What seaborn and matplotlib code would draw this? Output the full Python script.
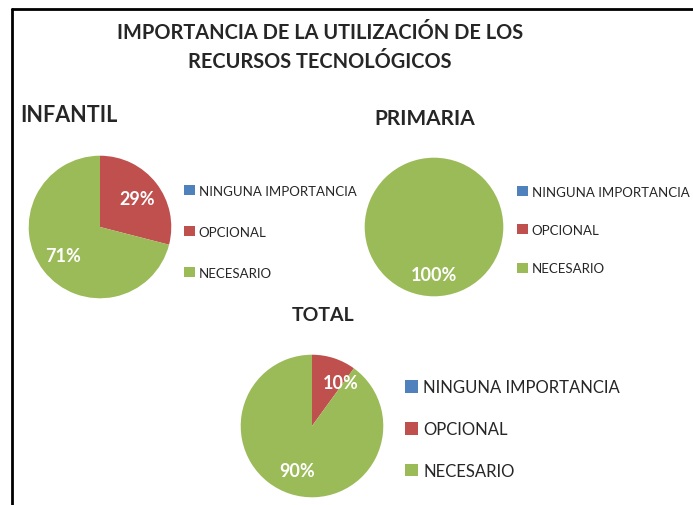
import matplotlib
matplotlib.use('Agg')
import matplotlib.pyplot as plt
import seaborn as sns

categorias = ['NINGUNA IMPORTANCIA', 'OPCIONAL', 'NECESARIO']
infantil = [0, 29, 71]
primaria = [0, 0, 100]
total = [0, 10, 90]
colores = ['#4F81BD', '#C0504D', '#9BBB59']

sns.set_style('white')
plt.rcParams['font.family'] = ['Lato', 'DejaVu Sans']

W, H = 693, 506
fig = plt.figure(figsize=(W / 100, H / 100), dpi=100)


def fx(x):
    return x / W


def fy(y):
    return 1 - y / H


def pct(v):
    return '' if v < 0.5 else f'{v:.0f}%'


def pastel(datos, cx, cy, r, leg_x, leg_y, leg_size, spacing, pct_dist):
    ax = fig.add_axes([fx(cx - r), fy(cy + r), 2 * r / W, 2 * r / H])
    wedges, _, textos = ax.pie(datos, colors=colores, startangle=90, counterclock=False,
                               autopct=pct, pctdistance=pct_dist,
                               wedgeprops=dict(linewidth=0),
                               textprops=dict(color='white', fontsize=13, fontweight='bold'))
    ax.set_xlim(-1.01, 1.01)
    ax.set_ylim(-1.01, 1.01)
    fig.legend(wedges, categorias, loc='center left', bbox_to_anchor=(fx(leg_x), fy(leg_y)),
               frameon=False, fontsize=leg_size, labelspacing=spacing,
               handlelength=0.8, handleheight=0.8, handletextpad=0.3, borderpad=0, borderaxespad=0)
    return textos


# marco
fig.add_artist(plt.Line2D([fx(12), fx(12)], [fy(10), 0], color='black', lw=2))
fig.add_artist(plt.Line2D([fx(12), 1], [fy(10), fy(10)], color='black', lw=2))

fig.text(fx(320), fy(33), 'IMPORTANCIA DE LA UTILIZACIÓN DE LOS', ha='center', va='center',
         fontsize=14.4, fontweight='bold')
fig.text(fx(320), fy(62), 'RECURSOS TECNOLÓGICOS', ha='center', va='center',
         fontsize=14.4, fontweight='bold')

fig.text(fx(20), fy(115), 'INFANTIL', ha='left', va='center', fontsize=15.5, fontweight='bold')
fig.text(fx(425), fy(119), 'PRIMARIA', ha='center', va='center', fontsize=15, fontweight='bold')
fig.text(fx(323), fy(316), 'TOTAL', ha='center', va='center', fontsize=14, fontweight='bold')

pastel(infantil, 100, 228, 72, 184, 233, 9.5, 2.2, 0.66)
pastel(primaria, 434, 228, 70, 517, 231, 9.5, 2.0, 0.69)
textos_total = pastel(total, 312, 427, 72, 405, 430, 12, 1.55, 0.66)
# en el original la etiqueta del 10% queda desplazada hacia el borde
textos_total[1].set_position((0.40, 0.61))

fig.savefig('out.png', dpi=100)
